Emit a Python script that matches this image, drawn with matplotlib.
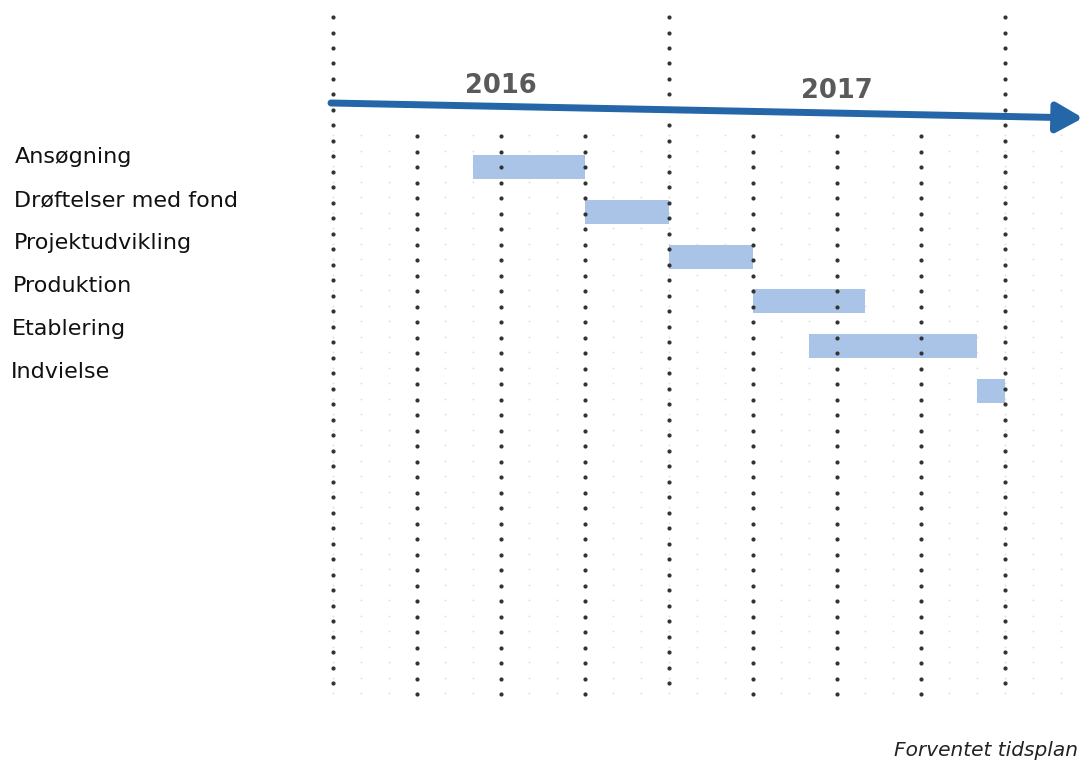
import numpy as np
import matplotlib
matplotlib.use("Agg")
import matplotlib.pyplot as plt

# ---- data ----
tasks = ["Ansøgning", "Drøftelser med fond", "Projektudvikling",
         "Produktion", "Etablering", "Indvielse"]
# months counted from Jan 2016 (0) ; start / end month
task_start = [5, 9, 12, 15, 17, 23]
task_end = [9, 12, 15, 19, 23, 24]
years = ["2016", "2017"]
year_start = [0, 12, 24]
quarter_lines = [3, 6, 9, 15, 18, 21, 27]
caption = "Forventet tidsplan"

# ---- layout helpers (pixel geometry of the reference) ----
W, H = 1083, 765
PX_MONTH = 28.0
X0 = 333.0
ROW0 = 167.0
PX_ROW = 44.8

def rx(px):
    return (px - X0) / PX_MONTH

def ry(py):
    return (py - ROW0) / PX_ROW

fig = plt.figure(figsize=(W / 100, H / 100), dpi=100)
ax = fig.add_axes([0, 0, 1, 1])
ax.set_xlim(rx(0), rx(W))
ax.set_ylim(ry(H), ry(0))
ax.axis("off")

# light background dot grid
gx = np.arange(0, 28)
gy = np.arange(ry(135), ry(700), 15.5 / PX_ROW)
GX, GY = np.meshgrid(gx, gy)
ax.scatter(GX.ravel(), GY.ravel(), s=2.0, color="#e2e2e2", lw=0, zorder=1)

# bars
for i, (s, e) in enumerate(zip(task_start, task_end)):
    ax.barh(i, e - s, left=s, height=24 / PX_ROW, color="#a9c4e7",
            edgecolor="none", zorder=2)

# dark dotted lines
step = 15.5 / PX_ROW
for m in year_start:
    ys = np.arange(ry(17), ry(698), step)
    ax.scatter(np.full_like(ys, m), ys, s=9, color="#333333", lw=0, zorder=3)
for m in quarter_lines:
    ys = np.arange(ry(136), ry(698), step)
    ax.scatter(np.full_like(ys, m), ys, s=9, color="#333333", lw=0, zorder=3)

# time arrow
ax.annotate("", xy=(rx(1083), ry(118)), xytext=(rx(331), ry(103)),
            arrowprops=dict(arrowstyle="-|>,head_length=0.8,head_width=0.45",
                            lw=5, color="#2466a8", mutation_scale=20,
                            shrinkA=0, shrinkB=0),
            zorder=4)

# year labels
for k, y in enumerate(years):
    cx = (year_start[k] + year_start[k + 1]) / 2
    ax.text(cx, ry(86 + 5 * k), y, ha="center", va="center",
            fontsize=18.5, fontweight="bold", color="#5a5a5a", zorder=5)

# task labels
for i, t in enumerate(tasks):
    ax.text(rx(15 - 0.8 * i), -0.22 + 0.96 * i, t, ha="left", va="center",
            fontsize=16, color="#111111", zorder=5)

ax.text(rx(1078), ry(750), caption, ha="right", va="center",
        fontsize=14.5, style="italic", color="#222222")

fig.savefig("out.png", dpi=100, facecolor="white")
